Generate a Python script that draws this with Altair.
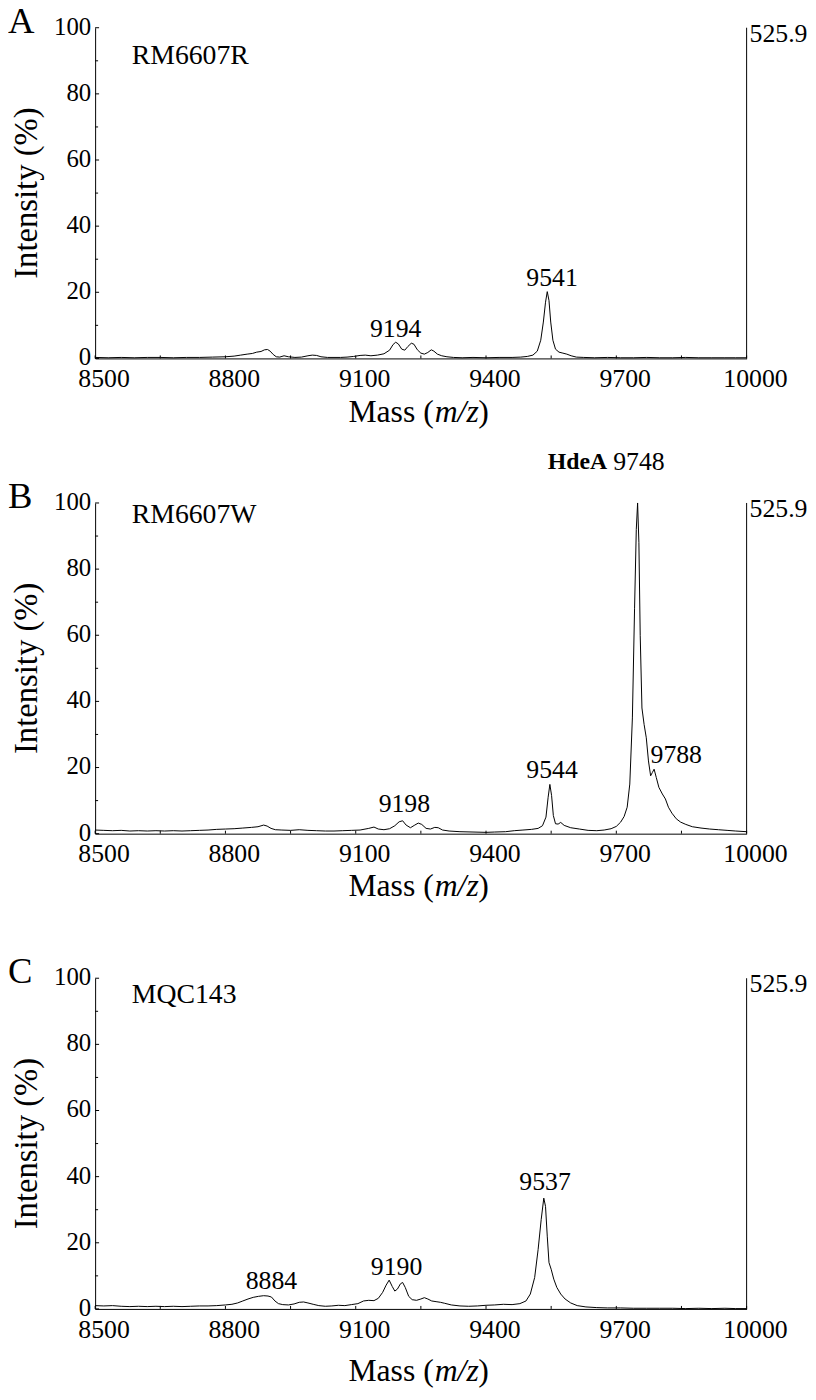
import altair as alt
import pandas as pd

FONT = "Liberation Serif"
W, H = 658, 334

# ---------------- data ----------------
a_mass = [8500, 8530, 8560, 8590, 8620, 8650, 8680, 8710, 8740, 8770, 8800, 8820, 8835, 8850, 8862, 8872,
          8882, 8890, 8897, 8903, 8910, 8917, 8925, 8935, 8945, 8960, 8975, 8990, 9000, 9010, 9020, 9035,
          9050, 9065, 9080, 9095, 9110, 9122, 9135, 9150, 9165, 9178, 9186, 9192, 9198, 9206, 9213, 9220,
          9228, 9234, 9242, 9250, 9258, 9266, 9274, 9280, 9288, 9298, 9310, 9325, 9345, 9370, 9400, 9430,
          9460, 9480, 9495, 9508, 9518, 9526, 9532, 9537, 9541, 9545, 9549, 9554, 9560, 9568, 9577, 9586,
          9596, 9608, 9625, 9650, 9680, 9710, 9740, 9770, 9800, 9830, 9860, 9890, 9920, 9950, 9975, 10000]
a_int = [0.3, 0.2, 0.3, 0.2, 0.3, 0.3, 0.2, 0.3, 0.3, 0.4, 0.5, 0.7, 1.0, 1.3, 1.5, 1.9,
         2.1, 2.6, 2.7, 2.2, 1.2, 0.5, 0.4, 0.8, 0.5, 0.3, 0.4, 0.8, 1.0, 0.9, 0.5, 0.3,
         0.3, 0.3, 0.4, 0.6, 0.9, 1.0, 0.8, 1.0, 1.4, 2.5, 4.2, 4.9, 4.4, 2.8, 2.5, 3.6,
         4.6, 4.3, 2.6, 1.6, 1.3, 1.8, 2.6, 2.2, 1.3, 0.8, 0.5, 0.3, 0.2, 0.3, 0.2, 0.3,
         0.3, 0.4, 0.6, 1.0, 2.2, 5.5, 11.0, 17.0, 20.2, 17.5, 11.0, 5.5, 2.8, 1.9, 1.6, 1.3,
         0.8, 0.4, 0.3, 0.2, 0.3, 0.2, 0.2, 0.3, 0.2, 0.2, 0.3, 0.2, 0.2, 0.2, 0.2, 0.2]

b_mass = [8500, 8520, 8540, 8560, 8580, 8600, 8620, 8640, 8660, 8680, 8700, 8720, 8740, 8760, 8780, 8800,
          8820, 8840, 8860, 8875, 8888, 8896, 8905, 8915, 8930, 8950, 8970, 8990, 9010, 9030, 9050, 9070,
          9090, 9110, 9130, 9142, 9152, 9165, 9178, 9190, 9200, 9208, 9216, 9226, 9236, 9244, 9252, 9262,
          9272, 9282, 9290, 9300, 9315, 9340, 9370, 9400, 9420, 9445, 9465, 9485, 9505, 9520, 9530, 9538,
          9543, 9547, 9551, 9555, 9560, 9566, 9572, 9580, 9595, 9615, 9635, 9655, 9672, 9688, 9700, 9710,
          9718, 9725, 9731, 9737, 9742, 9746, 9749, 9752, 9755, 9759, 9764, 9769, 9774, 9779, 9783, 9787,
          9792, 9798, 9806, 9813, 9820, 9828, 9838, 9848, 9860, 9875, 9895, 9915, 9935, 9955, 9975, 10000]
b_int = [1.1, 1.0, 0.9, 1.0, 0.8, 0.9, 0.8, 0.9, 0.8, 0.9, 0.8, 0.9, 1.0, 1.1, 1.3, 1.4,
         1.5, 1.7, 1.9, 2.1, 2.6, 2.3, 1.6, 1.2, 1.1, 1.0, 1.2, 1.0, 0.9, 0.8, 0.8, 0.9,
         1.0, 1.1, 1.6, 2.0, 1.4, 1.2, 1.5, 2.4, 3.6, 3.9, 2.6, 1.8, 2.6, 3.2, 2.8, 1.6,
         1.4, 1.9, 1.8, 1.1, 0.8, 0.6, 0.5, 0.4, 0.5, 0.6, 0.9, 1.1, 1.3, 1.6, 2.4, 5.0,
         11.0, 14.9, 11.5, 5.5, 3.0, 2.9, 3.4, 2.5, 1.8, 1.4, 1.0, 0.9, 1.1, 1.5, 2.2, 3.5,
         5.2, 8.0, 15.0, 35.0, 68.0, 92.0, 100.0, 88.0, 60.0, 38.0, 33.0, 29.0, 22.0, 17.5, 18.5, 19.5,
         17.0, 14.0, 12.0, 10.5, 8.0, 6.2, 4.5, 3.5, 2.8, 2.1, 1.7, 1.4, 1.2, 1.0, 0.8, 0.6]

c_mass = [8500, 8520, 8540, 8560, 8580, 8600, 8620, 8640, 8660, 8680, 8700, 8720, 8740, 8760, 8780, 8800,
          8815, 8828, 8840, 8852, 8864, 8876, 8888, 8898, 8906, 8914, 8922, 8932, 8945, 8958, 8970, 8980,
          8990, 9002, 9015, 9030, 9045, 9060, 9075, 9090, 9105, 9118, 9130, 9142, 9152, 9162, 9170, 9177,
          9184, 9190, 9196, 9203, 9208, 9214, 9222, 9230, 9240, 9250, 9258, 9266, 9275, 9285, 9295, 9305,
          9320, 9340, 9360, 9380, 9400, 9420, 9440, 9460, 9478, 9492, 9502, 9512, 9520, 9527, 9533, 9537,
          9541, 9545, 9550, 9556, 9563, 9572, 9582, 9595, 9610, 9630, 9655, 9680, 9710, 9740, 9770, 9800,
          9830, 9860, 9890, 9920, 9950, 9975, 10000]
c_int = [1.0, 0.9, 1.0, 0.8, 0.7, 0.8, 0.7, 0.8, 0.7, 0.8, 0.7, 0.8, 0.9, 0.9, 1.0, 1.2,
         1.4, 1.8, 2.4, 3.0, 3.5, 3.8, 4.0, 3.9, 3.6, 2.4, 1.6, 1.3, 1.2, 1.5, 2.0, 2.1,
         1.8, 1.4, 1.0, 0.8, 0.9, 1.1, 1.0, 1.3, 1.6, 2.4, 2.6, 2.5, 3.2, 5.0, 7.2, 8.7,
         6.8, 5.4, 6.0, 7.6, 8.0, 6.5, 3.8, 2.8, 2.6, 3.0, 3.4, 3.0, 2.4, 2.2, 2.0, 1.7,
         1.2, 0.9, 0.8, 0.9, 1.1, 1.2, 1.4, 1.3, 1.6, 2.4, 4.5, 9.5, 18.0, 27.0, 33.5, 31.0,
         22.0, 14.0, 12.0, 9.0, 6.5, 4.5, 3.0, 1.8, 1.0, 0.6, 0.4, 0.3, 0.3, 0.2, 0.2, 0.2,
         0.2, 0.1, 0.2, 0.1, 0.2, 0.1, 0.1]

a_peak_mass = [9192, 9552]
a_peak_int = [8.8, 24.2]
a_peak_text = ["9194", "9541"]

b_peak_mass = [9212, 9552, 9838, 9752]
b_peak_int = [8.8, 19.3, 23.8, 112.5]
b_peak_text = ["9198", "9544", "9788", "9748"]

c_peak_mass = [8906, 9194, 9536]
c_peak_int = [8.3, 12.8, 38.3]
c_peak_text = ["8884", "9190", "9537"]

x_label_values = [8500, 8800, 9100, 9400, 9700, 10000]
x_label_text = ["8500", "8800", "9100", "9400", "9700", "10000"]
x_tick_values = [8500, 8650, 8800, 8950, 9100, 9250, 9400, 9550, 9700, 9850, 10000]
y_major = [0, 20, 40, 60, 80, 100]
y_major_text = ["0", "20", "40", "60", "80", "100"]
y_minor = [10, 30, 50, 70, 90]

XS = alt.Scale(domain=[8500, 10000], nice=False, zero=False)
YS = alt.Scale(domain=[0, 100], nice=False)

X_ENC = alt.X("mass:Q", scale=XS, axis=alt.Axis(
    values=x_label_values, title=None, grid=False, ticks=False, labels=False,
    domainColor="black", domainWidth=1))
Y_ENC = alt.Y("intensity:Q", scale=YS, axis=alt.Axis(
    values=y_major, title=None, grid=False, ticks=False, labels=False,
    domainColor="black", domainWidth=1))


def txt(text, size, align, baseline, x, y, style="normal", weight="normal", angle=0):
    one = pd.DataFrame({"k": [0]})
    kw = dict(text=text, font=FONT, fontSize=size, align=align, baseline=baseline,
              color="black", fontStyle=style, fontWeight=weight)
    if angle:
        kw["angle"] = angle
    return alt.Chart(one).mark_text(**kw).encode(x=alt.value(x), y=alt.value(y))


def panel(mass, inten, letter, name, name_y, pm, pi, pt, title_dy, hdea=False):
    df = pd.DataFrame({"mass": mass, "intensity": inten})
    one = pd.DataFrame({"k": [0]})
    line = alt.Chart(df).mark_line(color="black", strokeWidth=1).encode(x=X_ENC, y=Y_ENC)

    yt_major = alt.Chart(pd.DataFrame({"intensity": y_major})).mark_rule(
        color="black", strokeWidth=1).encode(y=Y_ENC, x=alt.value(0), x2=alt.value(4))
    yt_minor = alt.Chart(pd.DataFrame({"intensity": y_minor})).mark_rule(
        color="black", strokeWidth=1).encode(y=Y_ENC, x=alt.value(0), x2=alt.value(3))
    xt = alt.Chart(pd.DataFrame({"mass": x_tick_values})).mark_rule(
        color="black", strokeWidth=1).encode(x=X_ENC, y=alt.value(H), y2=alt.value(H - 3))

    # tick labels drawn as text through the scales
    xl = alt.Chart(pd.DataFrame({"mass": x_label_values, "lbl": x_label_text})).mark_text(
        font=FONT, fontSize=26, align="center", baseline="middle", color="black", dx=9
    ).encode(x=X_ENC, y=alt.value(H + 21), text="lbl:N")
    yl = alt.Chart(pd.DataFrame({"intensity": y_major, "lbl": y_major_text})).mark_text(
        font=FONT, fontSize=25, align="right", baseline="middle", color="black", dy=-1
    ).encode(y=Y_ENC, x=alt.value(-4), text="lbl:N")

    right = alt.Chart(one).mark_rule(color="black", strokeWidth=1).encode(
        x=alt.value(W), y=alt.value(0), y2=alt.value(H))
    right_lbl = txt("525.9", 26, "left", "middle", W + 3, 6)

    letter_t = txt(letter, 37, "left", "top", -88, -24)
    name_t = txt(name, 28, "left", "middle", 37, name_y)
    ytitle = txt("Intensity (%)", 33, "center", "middle", -69, H / 2, angle=270)

    pk = pd.DataFrame({"mass": pm, "intensity": pi, "label": pt})
    peaks = alt.Chart(pk).mark_text(
        font=FONT, fontSize=26, align="center", baseline="middle", color="black"
    ).encode(x=X_ENC, y=Y_ENC, text="label:N")

    ty = H + title_dy
    t1 = txt("Mass (", 32, "right", "middle", 342, ty)
    t2 = txt("m/z", 32, "left", "middle", 343, ty, style="italic")
    t3 = txt(")", 32, "left", "middle", 387, ty)

    layers = [line, yt_major, yt_minor, xt, xl, yl, right, right_lbl, letter_t, name_t,
              ytitle, peaks, t1, t2, t3]
    if hdea:
        hd = pd.DataFrame({"mass": [9752], "intensity": [112.5], "label": ["HdeA"]})
        layers.append(alt.Chart(hd).mark_text(
            font=FONT, fontSize=24, fontWeight="bold", align="right", baseline="middle",
            color="black", dx=-32).encode(x=X_ENC, y=Y_ENC, text="label:N"))
    return alt.layer(*layers).properties(width=W, height=H)


pa = panel(a_mass, a_int, "A", "RM6607R", 29, a_peak_mass, a_peak_int, a_peak_text, 54)
pb = panel(b_mass, b_int, "B", "RM6607W", 12, b_peak_mass, b_peak_int, b_peak_text, 53, hdea=True)
pc = panel(c_mass, c_int, "C", "MQC143", 17, c_peak_mass, c_peak_int, c_peak_text, 63)

chart = alt.vconcat(pa, pb, pc, spacing=146, bounds="flush").properties(
    padding={"left": 0, "top": -12, "right": 0, "bottom": 0},
).configure(
    font=FONT,
    background="white",
).configure_view(
    strokeWidth=0, stroke="transparent"
)

chart.save("out.html", embed_options={"renderer": "svg", "actions": False})
